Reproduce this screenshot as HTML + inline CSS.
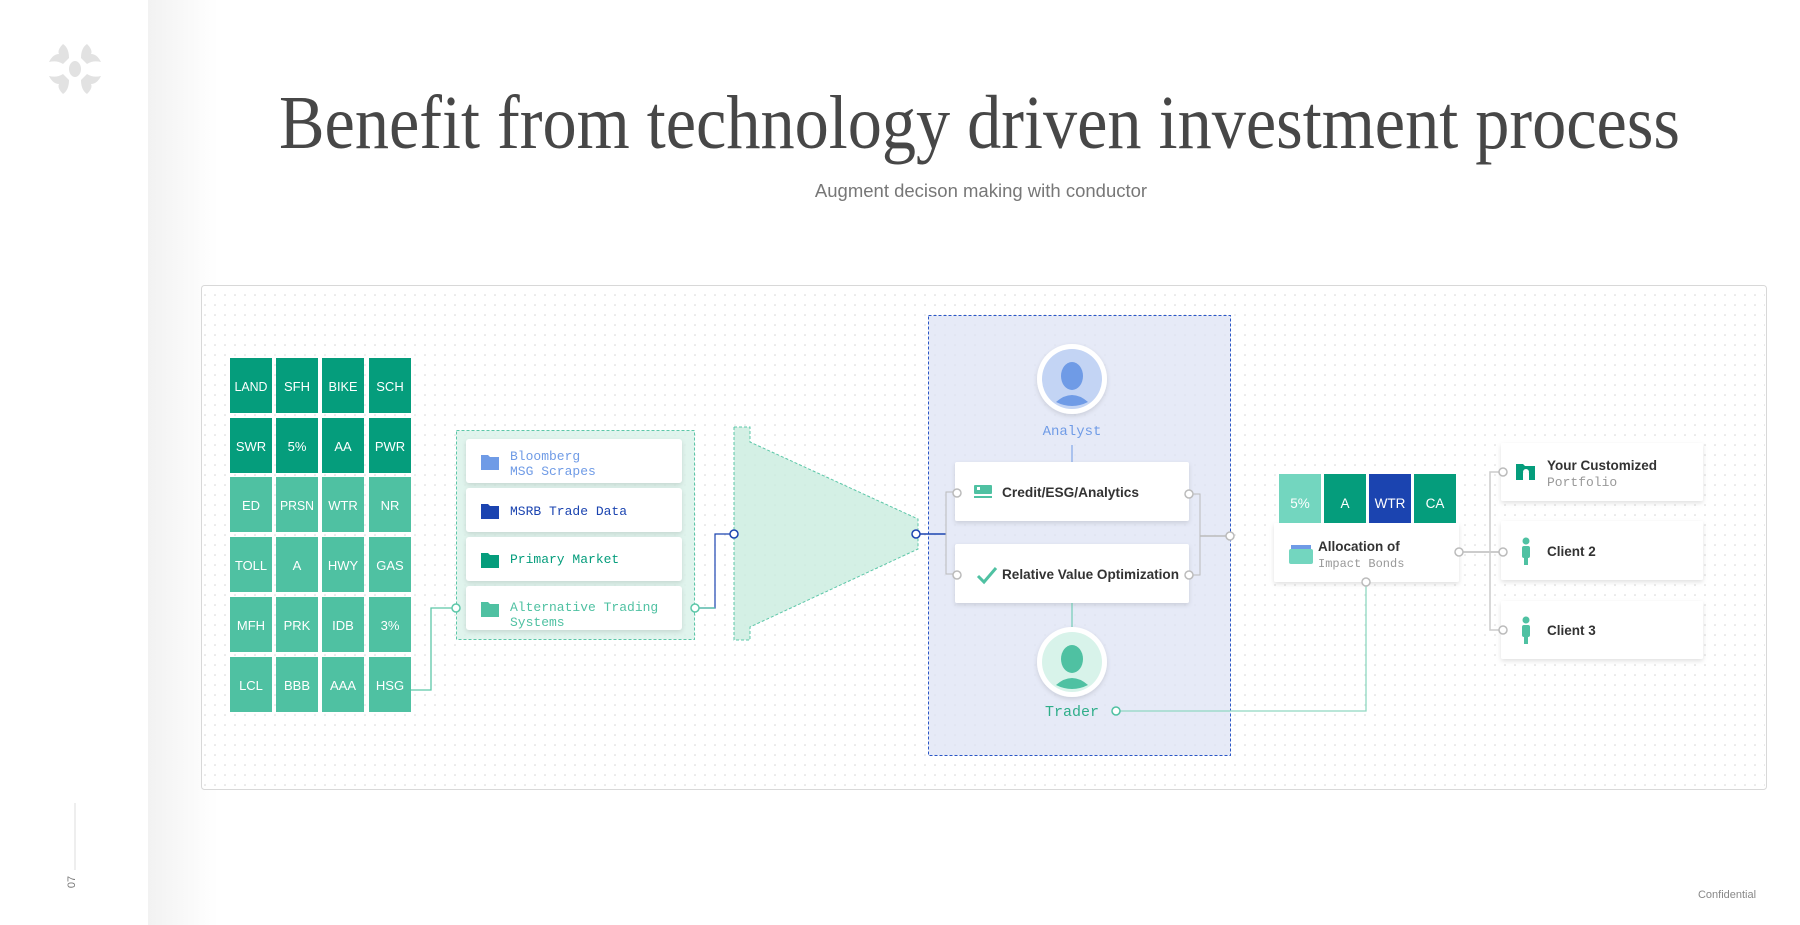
<!DOCTYPE html>
<html><head><meta charset="utf-8"><style>
html,body{margin:0;padding:0;background:#fff;}
svg{display:block;font-family:"Liberation Sans",sans-serif;}
.m{font-family:"Liberation Mono",monospace;}
</style></head><body>
<svg width="1800" height="925" viewBox="0 0 1800 925" xmlns="http://www.w3.org/2000/svg">
<defs>
<linearGradient id="sg" x1="0" x2="1"><stop offset="0" stop-color="#f2f2f2"/><stop offset="1" stop-color="#fff"/></linearGradient>
<pattern id="dots" width="10" height="10" patternUnits="userSpaceOnUse"><circle cx="5" cy="5" r="0.8" fill="#d4d4d4"/></pattern>
<filter id="sh" x="-10%" y="-20%" width="120%" height="150%"><feDropShadow dx="0" dy="2" stdDeviation="2.5" flood-color="#000" flood-opacity="0.12"/></filter>
</defs>
<rect width="1800" height="925" fill="#fff"/>
<rect x="148" y="0" width="70" height="925" fill="url(#sg)"/>
<!-- logo -->
<g fill="#e2e2e2">
<ellipse cx="75" cy="69" rx="6" ry="8"/>
<path d="M63 44 q6 4 6 14 l-6 6 q-6 -4 -14 -2 q4 -8 10 -8 q-2 -4 4 -10z"/>
<path d="M87 44 q-6 4 -6 14 l6 6 q6 -4 14 -2 q-4 -8 -10 -8 q2 -4 -4 -10z"/>
<path d="M63 94 q6 -4 6 -14 l-6 -6 q-6 4 -14 2 q4 8 10 8 q-2 4 4 10z"/>
<path d="M87 94 q-6 -4 -6 -14 l6 -6 q6 4 14 2 q-4 8 -10 8 q2 4 -4 10z"/>
</g>
<line x1="75" y1="803" x2="75" y2="870" stroke="#ddd"/>
<text x="80" y="887" font-size="11" fill="#777" transform="rotate(-90 75 887)" text-anchor="middle">07</text>
<text x="1727" y="898" font-size="11" fill="#888" text-anchor="middle">Confidential</text>
<!-- title -->
<text x="279" y="148" font-family="Liberation Serif,serif" font-size="76" fill="#474747" textLength="1401" lengthAdjust="spacingAndGlyphs">Benefit from technology driven investment process</text>
<text x="981" y="197" font-size="18.5" fill="#777" text-anchor="middle">Augment decison making with conductor</text>
<!-- diagram frame -->
<rect x="201.5" y="285.5" width="1565" height="504" rx="3" fill="#fff" stroke="#d8d8d8"/>
<rect x="203" y="287" width="1562" height="501" fill="url(#dots)"/>
<!-- tiles -->
<g font-size="13" fill="#fff" text-anchor="middle">
<g fill="#059d7c">
<rect x="230" y="358" width="42" height="55"/><rect x="276" y="358" width="42" height="55"/><rect x="322" y="358" width="42" height="55"/><rect x="369" y="358" width="42" height="55"/>
<rect x="230" y="418" width="42" height="55"/><rect x="276" y="418" width="42" height="55"/><rect x="322" y="418" width="42" height="55"/><rect x="369" y="418" width="42" height="55"/>
</g>
<g fill="#4fc1a2">
<rect x="230" y="477" width="42" height="55"/><rect x="276" y="477" width="42" height="55"/><rect x="322" y="477" width="42" height="55"/><rect x="369" y="477" width="42" height="55"/>
<rect x="230" y="537" width="42" height="55"/><rect x="276" y="537" width="42" height="55"/><rect x="322" y="537" width="42" height="55"/><rect x="369" y="537" width="42" height="55"/>
<rect x="230" y="597" width="42" height="55"/><rect x="276" y="597" width="42" height="55"/><rect x="322" y="597" width="42" height="55"/><rect x="369" y="597" width="42" height="55"/>
<rect x="230" y="657" width="42" height="55"/><rect x="276" y="657" width="42" height="55"/><rect x="322" y="657" width="42" height="55"/><rect x="369" y="657" width="42" height="55"/>
</g>
<g fill="#fff">
<text x="251" y="391" textLength="33" lengthAdjust="spacingAndGlyphs">LAND</text><text x="297" y="391">SFH</text><text x="343" y="391" textLength="29" lengthAdjust="spacingAndGlyphs">BIKE</text><text x="390" y="391">SCH</text>
<text x="251" y="451">SWR</text><text x="297" y="451">5%</text><text x="343" y="451">AA</text><text x="390" y="451">PWR</text>
<text x="251" y="510">ED</text><text x="297" y="510" textLength="34" lengthAdjust="spacingAndGlyphs">PRSN</text><text x="343" y="510">WTR</text><text x="390" y="510">NR</text>
<text x="251" y="570" textLength="32" lengthAdjust="spacingAndGlyphs">TOLL</text><text x="297" y="570">A</text><text x="343" y="570">HWY</text><text x="390" y="570">GAS</text>
<text x="251" y="630">MFH</text><text x="297" y="630">PRK</text><text x="343" y="630">IDB</text><text x="390" y="630">3%</text>
<text x="251" y="690">LCL</text><text x="297" y="690">BBB</text><text x="343" y="690">AAA</text><text x="390" y="690">HSG</text>
</g>
</g>
<!-- connectors left -->
<polyline points="411,690 431,690 431,608 452,608" fill="none" stroke="#5cc7a8" stroke-width="1.3"/>
<!-- source group -->
<rect x="456.5" y="430.5" width="238" height="209" fill="#d8f1e8" fill-opacity="0.8" stroke="#5cc7a8" stroke-dasharray="3 2"/>
<g filter="url(#sh)" fill="#fff">
<rect x="466" y="439" width="216" height="44" rx="3"/><rect x="466" y="488" width="216" height="44" rx="3"/>
<rect x="466" y="537" width="216" height="44" rx="3"/><rect x="466" y="586" width="216" height="44" rx="3"/>
</g>
<g>
<path d="M481 455 h7 l2 2 h9 v13 h-18z" fill="#6f9be6"/>
<path d="M481 504 h7 l2 2 h9 v13 h-18z" fill="#1b44b0"/>
<path d="M481 553 h7 l2 2 h9 v13 h-18z" fill="#059d7c"/>
<path d="M481 602 h7 l2 2 h9 v13 h-18z" fill="#4fc1a2"/>
</g>
<g class="m" font-size="13">
<text x="510" y="460" fill="#6f9be6">Bloomberg</text><text x="510" y="475" fill="#6f9be6">MSG Scrapes</text>
<text x="510" y="515" fill="#1b44b0">MSRB Trade Data</text>
<text x="510" y="563" fill="#059d7c">Primary Market</text>
<text x="510" y="611" fill="#4fc1a2">Alternative Trading</text><text x="510" y="626" fill="#4fc1a2">Systems</text>
</g>
<circle cx="456" cy="608" r="4" fill="#fff" stroke="#5cc7a8" stroke-width="1.5"/>
<polyline points="699,608 715,608 715,534 730,534" fill="none" stroke="#1b44b0" stroke-width="1.2"/>
<polyline points="699,608 715,608" fill="none" stroke="#5cc7a8" stroke-width="1.3"/>
<circle cx="695" cy="608" r="4" fill="#fff" stroke="#5cc7a8" stroke-width="1.5"/>
<!-- funnel -->
<path d="M734 427 H750 V442 L918 519 V549 L750 627 V640 H734 Z" fill="#c9ecdf" fill-opacity="0.8" stroke="#5cc7a8" stroke-dasharray="3 2"/>
<circle cx="734" cy="534" r="4" fill="#fff" stroke="#1b44b0" stroke-width="1.5"/>
<!-- blue group -->
<rect x="928.5" y="315.5" width="302" height="440" fill="#dde3f4" fill-opacity="0.75" stroke="#2a56c6" stroke-dasharray="3 2"/>
<polyline points="920,534 946,534" stroke="#1b44b0" stroke-width="1.5"/>
<polyline points="953,492 946,492 946,574 953,574" fill="none" stroke="#bbb"/>
<circle cx="916" cy="534" r="4" fill="#fff" stroke="#1b44b0" stroke-width="1.5"/>
<!-- analyst -->
<circle cx="1072" cy="379" r="35" fill="#fff" filter="url(#sh)"/>
<circle cx="1072" cy="379" r="30" fill="#c3d4f4"/>
<ellipse cx="1072" cy="376" rx="11" ry="14" fill="#6f9be6"/>
<path d="M1056 402 q16 -14 32 0 q-16 8 -32 0z" fill="#6f9be6"/>
<text x="1072" y="435" class="m" font-size="14" fill="#6f9be6" text-anchor="middle">Analyst</text>
<line x1="1072" y1="445" x2="1072" y2="462" stroke="#6f9be6"/>
<!-- cards -->
<g filter="url(#sh)" fill="#fff">
<rect x="955" y="462" width="234" height="59" rx="2"/>
<rect x="955" y="544" width="234" height="59" rx="2"/>
</g>
<rect x="974" y="485" width="18" height="9" rx="1" fill="#4fc1a2"/><rect x="974" y="496" width="18" height="2" fill="#4fc1a2"/><rect x="977" y="487" width="3" height="3" fill="#fff"/>
<path d="M978 576 l6 6 l12 -14" fill="none" stroke="#4fc1a2" stroke-width="3"/>
<text x="1002" y="497" font-size="13.5" font-weight="bold" fill="#333" textLength="137" lengthAdjust="spacingAndGlyphs">Credit/ESG/Analytics</text>
<text x="1002" y="579" font-size="13.5" font-weight="bold" fill="#333" textLength="177" lengthAdjust="spacingAndGlyphs">Relative Value Optimization</text>
<circle cx="957" cy="493" r="4" fill="#fff" stroke="#bbb" stroke-width="1.5"/>
<circle cx="957" cy="575" r="4" fill="#fff" stroke="#bbb" stroke-width="1.5"/>
<polyline points="1193,494 1200,494 1200,575 1193,575" fill="none" stroke="#bbb"/>
<line x1="1200" y1="536" x2="1226" y2="536" stroke="#bbb" stroke-width="1.5"/>
<circle cx="1189" cy="494" r="4" fill="#fff" stroke="#bbb" stroke-width="1.5"/>
<circle cx="1189" cy="575" r="4" fill="#fff" stroke="#bbb" stroke-width="1.5"/>
<circle cx="1230" cy="536" r="4" fill="#fff" stroke="#bbb" stroke-width="1.5"/>
<line x1="1072" y1="603" x2="1072" y2="627" stroke="#5cc7a8"/>
<!-- trader -->
<circle cx="1072" cy="662" r="35" fill="#fff" filter="url(#sh)"/>
<circle cx="1072" cy="662" r="30" fill="#d8f3ea"/>
<ellipse cx="1072" cy="659" rx="11" ry="14" fill="#4fc1a2"/>
<path d="M1056 685 q16 -14 32 0 q-16 8 -32 0z" fill="#4fc1a2"/>
<text x="1072" y="716" class="m" font-size="15" fill="#2fae8a" text-anchor="middle">Trader</text>
<polyline points="1120,711 1366,711 1366,586" fill="none" stroke="#8fd8c1" stroke-width="1.3"/>
<circle cx="1116" cy="711" r="4" fill="#fff" stroke="#4fc1a2" stroke-width="1.5"/>
<!-- allocation -->
<rect x="1274" y="523" width="185" height="59" rx="2" fill="#fff" filter="url(#sh)"/>
<g font-size="13.5" text-anchor="middle" fill="#fff">
<rect x="1279" y="474" width="42" height="49" fill="#73d6bf"/><text x="1300" y="508">5%</text>
<rect x="1324" y="474" width="42" height="49" fill="#059d7c"/><text x="1345" y="508">A</text>
<rect x="1369" y="474" width="42" height="49" fill="#1b44b0"/><text x="1390" y="508">WTR</text>
<rect x="1414" y="474" width="42" height="49" fill="#059d7c"/><text x="1435" y="508">CA</text>
</g>
<rect x="1291" y="545" width="20" height="5" fill="#6f9be6"/><rect x="1289" y="549" width="24" height="15" rx="2" fill="#73d6bf"/>
<text x="1318" y="551" font-size="13.5" font-weight="bold" fill="#333">Allocation of</text>
<text x="1318" y="567" class="m" font-size="12" fill="#999">Impact Bonds</text>
<circle cx="1366" cy="582" r="4" fill="#fff" stroke="#bbb" stroke-width="1.5"/>
<line x1="1463" y1="552" x2="1499" y2="552" stroke="#bbb" stroke-width="1.5"/>
<polyline points="1499,472 1490,472 1490,630 1499,630" fill="none" stroke="#ccc" stroke-width="1.5"/>
<circle cx="1459" cy="552" r="4" fill="#fff" stroke="#bbb" stroke-width="1.5"/>
<!-- clients -->
<g filter="url(#sh)" fill="#fff">
<rect x="1501" y="443" width="202" height="58" rx="2"/>
<rect x="1501" y="521" width="202" height="59" rx="2"/>
<rect x="1501" y="601" width="202" height="58" rx="2"/>
</g>
<circle cx="1503" cy="472" r="4" fill="#fff" stroke="#bbb" stroke-width="1.5"/>
<circle cx="1503" cy="552" r="4" fill="#fff" stroke="#bbb" stroke-width="1.5"/>
<circle cx="1503" cy="630" r="4" fill="#fff" stroke="#bbb" stroke-width="1.5"/>
<path d="M1516 464 h7 l2 2 h10 v14 h-19z" fill="#059d7c"/>
<circle cx="1526" cy="472" r="3" fill="#fff"/><rect x="1523" y="473" width="6" height="7" fill="#fff"/>
<text x="1547" y="470" font-size="13.5" font-weight="bold" fill="#333">Your Customized</text>
<text x="1547" y="486" class="m" font-size="13" fill="#999">Portfolio</text>
<g fill="#4fc1a2">
<circle cx="1526" cy="541" r="3.5"/><rect x="1522" y="546" width="8" height="12" rx="2"/><rect x="1524" y="556" width="4" height="9"/>
<circle cx="1526" cy="620" r="3.5"/><rect x="1522" y="625" width="8" height="12" rx="2"/><rect x="1524" y="635" width="4" height="9"/>
</g>
<text x="1547" y="556" font-size="13.5" font-weight="bold" fill="#333">Client 2</text>
<text x="1547" y="635" font-size="13.5" font-weight="bold" fill="#333">Client 3</text>
</svg>
</body></html>
